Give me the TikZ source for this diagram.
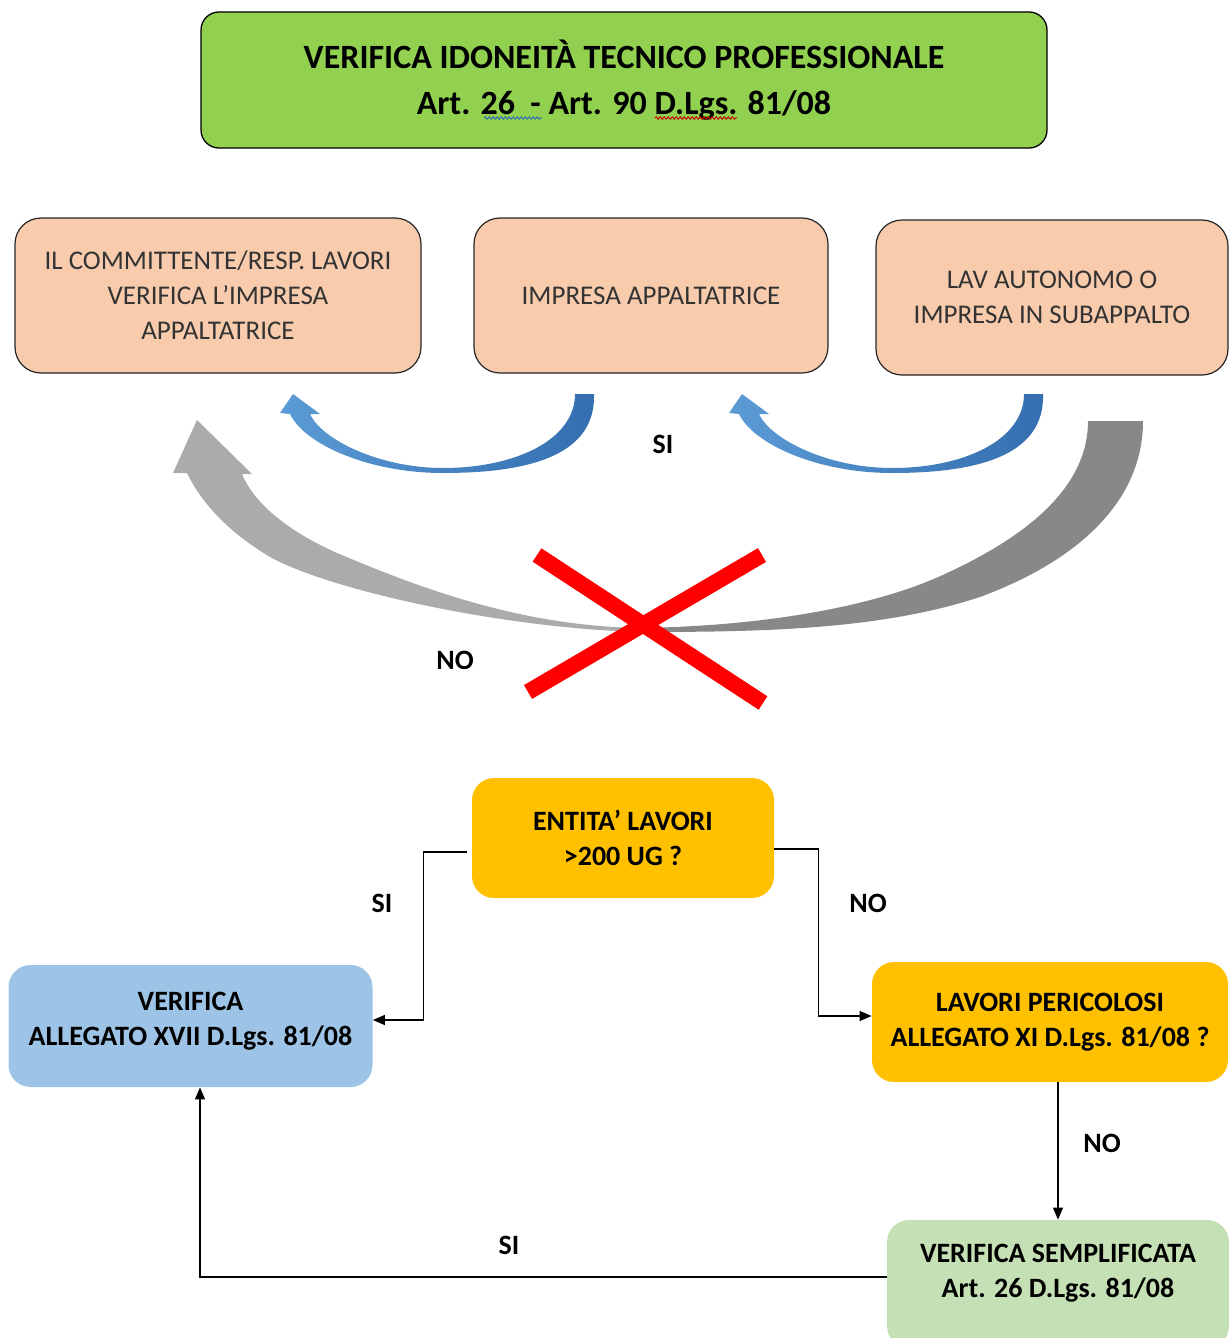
\documentclass[tikz,border=0pt]{standalone}
\usepackage{fontspec}
\setmainfont{Carlito}
\usetikzlibrary{arrows.meta,decorations.pathmorphing}
\definecolor{titlegreen}{RGB}{146,208,80}
\definecolor{peach}{RGB}{248,203,173}
\definecolor{gold}{RGB}{255,192,0}
\definecolor{paleblue}{RGB}{157,195,230}
\definecolor{palegreen}{RGB}{197,224,180}
\definecolor{arrowblueA}{RGB}{91,155,213}
\definecolor{arrowblueB}{RGB}{52,110,176}
\definecolor{greyA}{RGB}{171,171,171}
\definecolor{greyB}{RGB}{137,135,135}
\definecolor{crossred}{RGB}{255,0,0}
\begin{document}
\begin{tikzpicture}
[x=0.5pt, y=-0.5pt]
\tikzstyle{titlebox}=[draw=black, line width=0.65pt, fill=titlegreen, rounded corners=9pt, inner sep=0pt, align=center, font=\bfseries\fontsize{17}{23}\selectfont]
\tikzstyle{rolebox}=[draw=black!85, line width=0.6pt, fill=peach, rounded corners=13pt, inner sep=0pt, minimum height=77.5pt, align=center, text=black!80, font=\fontsize{13.5}{17.5}\selectfont]
\tikzstyle{flowbox}=[rounded corners=11pt, inner sep=0pt, minimum height=60pt, align=center, font=\bfseries\fontsize{14}{17.5}\selectfont]
\tikzstyle{lbl}=[font=\bfseries\fontsize{14}{16}\selectfont]
\tikzstyle{conn}=[line width=0.6pt, -{Triangle[length=6pt,width=5pt]}]
\clip (0,0) rectangle (1229,1338);

% title
\node[titlebox, minimum width=423pt, minimum height=68pt] (title) at (624,80)
  {VERIFICA IDONEITÀ TECNICO PROFESSIONALE\\Art. 26\ \ - Art. 90 D.Lgs. 81/08};
\draw[arrowblueB, line width=0.5pt, decorate, decoration={snake, amplitude=0.6pt, segment length=2pt}] (484,118) -- (542,118);
\draw[crossred!80!black, line width=0.5pt, decorate, decoration={snake, amplitude=0.6pt, segment length=2pt}] (655,118) -- (737,118);

% subjects
\node[rolebox, minimum width=203pt] (committente) at (218,295.5)
  {IL COMMITTENTE/RESP. LAVORI\\VERIFICA L’IMPRESA\\APPALTATRICE};
\node[rolebox, minimum width=177pt] (appaltatrice) at (651,295.5) {IMPRESA APPALTATRICE};
\node[rolebox, minimum width=176pt] (subappalto) at (1052,297.5)
  {LAV AUTONOMO O\\IMPRESA IN SUBAPPALTO};

% blue arrows
\foreach \dx in {0,449}
  \shade[shift={(\dx,0)}, left color=arrowblueA, right color=arrowblueB]
    (594,394) .. controls (596,455) and (530,473) .. (443,473)
    .. controls (370,473) and (305,445) .. (290,414)
    -- (280,413) -- (293,394) -- (320,414) -- (310,414)
    .. controls (322,440) and (380,468) .. (443,468)
    .. controls (515,468) and (575,440) .. (575,394) -- cycle;
\node[lbl] (siup) at (663,444) {SI};

% grey arrow
\fill[greyB]
  (1143,421) .. controls (1143,500) and (1080,560) .. (980,597)
  .. controls (880,630) and (760,632) .. (640,632)
  -- (640,628) .. controls (770,626) and (880,605) .. (947,573)
  .. controls (1040,530) and (1088,480) .. (1088,421) -- cycle;
\fill[greyA]
  (640,632) .. controls (500,628) and (330,590) .. (270,557)
  .. controls (225,530) and (200,500) .. (187,473)
  -- (173,473) -- (197,420) -- (252,474) -- (242,474)
  .. controls (255,505) and (290,532) .. (337,553)
  .. controls (420,588) and (520,626) .. (640,628) -- cycle;
\draw[crossred, line width=8pt] (537,555) -- (763,703);
\draw[crossred, line width=8pt] (762,555) -- (528,692);
\node[lbl] (nodown) at (455,660) {NO};

% flow
\node[flowbox, fill=gold, minimum width=151pt] (entita) at (623,838) {ENTITA’ LAVORI\\>200 UG ?};
\node[flowbox, fill=paleblue, minimum width=182pt, minimum height=61pt] (verifica) at (190.5,1026)
  {VERIFICA\\ALLEGATO XVII D.Lgs. 81/08\\[-10pt]};
\node[flowbox, fill=gold, minimum width=178pt] (pericolosi) at (1050,1022)
  {LAVORI PERICOLOSI\\ALLEGATO XI D.Lgs. 81/08 ?};
\node[flowbox, fill=palegreen, minimum width=171pt, minimum height=64pt] (semplificata) at (1058,1284)
  {VERIFICA SEMPLIFICATA\\Art. 26 D.Lgs. 81/08\\[-4pt]};

\draw[conn] ([xshift=-2.5pt, yshift=-7pt]entita.west) -- ++(-43,0) |- ([yshift=3pt]verifica.east);
\draw[conn] ([yshift=-5.5pt]entita.east) -- ++(44,0) |- ([yshift=3pt]pericolosi.west);
\draw[conn] (semplificata.north |- pericolosi.south) -- (semplificata.north);
\draw[conn] ([yshift=3.5pt]semplificata.west) -| ([xshift=4.75pt]verifica.south);

\node[lbl] (sileft) at (382,903) {SI};
\node[lbl] (noright) at (868,903) {NO};
\node[lbl] (nobelow) at (1102,1143) {NO};
\node[lbl] (sibottom) at (509,1245) {SI};
\end{tikzpicture}
\end{document}
